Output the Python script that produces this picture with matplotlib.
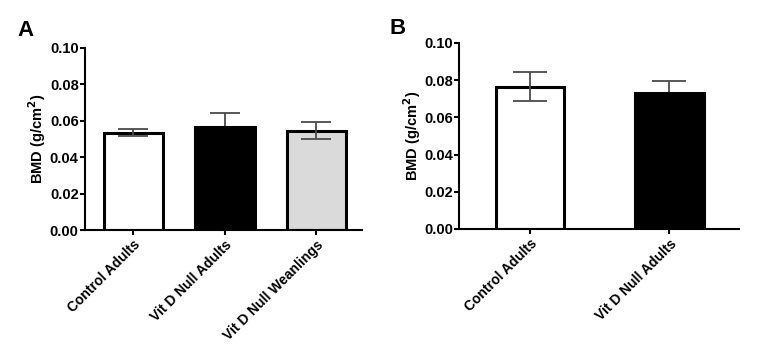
import matplotlib
matplotlib.use("Agg")
import matplotlib.pyplot as plt

plt.rcParams['font.family'] = ['Liberation Sans', 'DejaVu Sans']
plt.rcParams['font.weight'] = 'bold'

# panel A
groupsA = ["Control Adults", "Vit D Null Adults", "Vit D Null Weanlings"]
meanA = [0.0535, 0.0567, 0.0546]
semA = [0.0020, 0.0074, 0.0047]
colorsA = ["white", "black", "#dadada"]

# panel B
groupsB = ["Control Adults", "Vit D Null Adults"]
meanB = [0.0765, 0.0730]
semB = [0.0079, 0.0068]
colorsB = ["white", "black"]

yticks = [0.00, 0.02, 0.04, 0.06, 0.08, 0.10]

fig = plt.figure(figsize=(7.63, 3.55), dpi=100)
axA = fig.add_axes([0.1114, 0.352, 0.363, 0.513])
axB = fig.add_axes([0.6016, 0.355, 0.367, 0.524])


def draw(ax, groups, means, sems, colors, width, cap, xlim):
    x = list(range(len(groups)))
    ax.bar(x, means, width=width, color=colors, edgecolor="black",
           linewidth=2.2, zorder=2)
    for i in x:
        # lower whisker is hidden behind the black bars
        z = 1 if colors[i] == "black" else 3
        ax.errorbar(x[i], means[i], yerr=sems[i], fmt="none",
                    ecolor="#4a4a4a", elinewidth=1.3, capsize=cap,
                    capthick=1.3, zorder=z)
    ax.set_xlim(*xlim)
    ax.set_ylim(0, 0.10)
    ax.set_yticks(yticks)
    ax.set_yticklabels(["%.2f" % v for v in yticks])
    ax.set_xticks(x)
    ax.set_xticklabels(groups, rotation=45, ha="right",
                       rotation_mode="anchor")
    ax.spines['top'].set_visible(False)
    ax.spines['right'].set_visible(False)
    ax.spines['left'].set_linewidth(1.5)
    ax.spines['bottom'].set_linewidth(1.5)
    ax.tick_params(axis="both", width=1.5, length=3.5)
    ax.tick_params(axis="y", labelsize=10.5, pad=1)
    ax.tick_params(axis="x", labelsize=10, pad=2)
    ax.set_ylabel("BMD (g/cm$^\\mathbf{2}$)", fontsize=10.5,
                  fontweight="bold", labelpad=1)


draw(axA, groupsA, meanA, semA, colorsA, 0.65, 11, (-0.53, 2.5))
draw(axB, groupsB, meanB, semB, colorsB, 0.49, 12, (-0.51, 1.5))

fig.text(25 / 763, 1 - 30 / 355, "A", fontsize=16, fontweight="bold",
         ha="center", va="center")
fig.text(398 / 763, 1 - 29 / 355, "B", fontsize=16, fontweight="bold",
         ha="center", va="center")

fig.savefig("out.png", dpi=100)
